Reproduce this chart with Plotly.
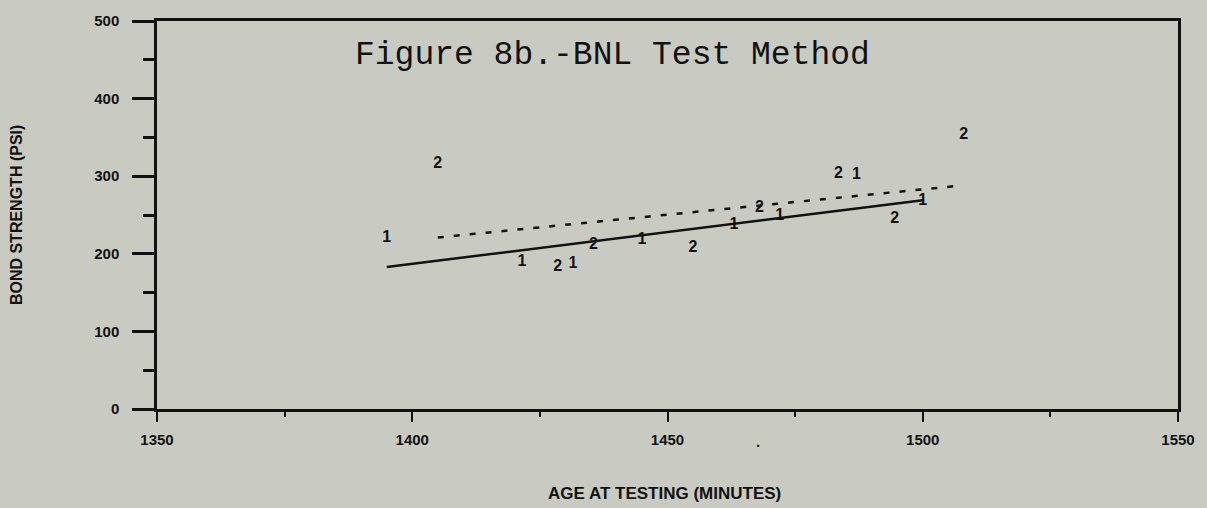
import plotly.graph_objects as go

# Series 1 ("1" symbols)
s1_age = [1395, 1421.5, 1431.5, 1445, 1463, 1472, 1487, 1500]
s1_strength = [221, 190, 187, 218, 237, 249, 302, 268]
# Series 2 ("2" symbols)
s2_age = [1405, 1428.5, 1435.5, 1455, 1468, 1483.5, 1494.5, 1508]
s2_strength = [316, 183, 211, 207, 259, 303, 245, 353]
# Fitted lines (end points)
fit1_age = [1395, 1500]
fit1_strength = [183, 269]
fit2_age = [1405, 1506]
fit2_strength = [221, 287]

x_ticks = [1350, 1400, 1450, 1500, 1550]
y_ticks = [0, 100, 200, 300, 400, 500]

BG = "#c9cbc3"
INK = "#111111"
SANS = "Liberation Sans, Arial, sans-serif"
tick_font = dict(family=SANS, size=15, color=INK, weight="bold")
ytitle_font = dict(family=SANS, size=16, color=INK, weight="bold")
xtitle_font = dict(family=SANS, size=17, color=INK, weight="bold")
mark_font = dict(family=SANS, size=16, color=INK, weight="bold")

fig = go.Figure()
fig.add_trace(go.Scatter(x=fit1_age, y=fit1_strength, mode="lines",
                         line=dict(color=INK, width=2.5), showlegend=False))
fig.add_trace(go.Scatter(x=fit2_age, y=fit2_strength, mode="lines",
                         line=dict(color=INK, width=2.5, dash="6px,10px"), showlegend=False))
fig.add_trace(go.Scatter(x=s1_age, y=s1_strength, mode="text", text=["1"] * len(s1_age),
                         textposition="middle center", textfont=mark_font, showlegend=False))
fig.add_trace(go.Scatter(x=s2_age, y=s2_strength, mode="text", text=["2"] * len(s2_age),
                         textposition="middle center", textfont=mark_font, showlegend=False))

fig.update_layout(
    width=1207, height=508,
    margin=dict(l=157, r=29, t=15, b=99),
    paper_bgcolor=BG, plot_bgcolor=BG,
    showlegend=False,
    xaxis=dict(range=[1350, 1550], tickvals=x_ticks, ticktext=[str(v) for v in x_ticks],
               ticks="outside", ticklen=10, tickwidth=2, tickcolor=INK,
               minor=dict(dtick=25, tick0=1350, ticks="outside", ticklen=5, tickwidth=2, tickcolor=INK, showgrid=False),
               showline=True, linewidth=2.5, linecolor=INK, mirror=True,
               showgrid=False, zeroline=False, tickfont=tick_font, ticklabelstandoff=5),
    yaxis=dict(range=[0, 500], tickvals=y_ticks, ticktext=[str(v) for v in y_ticks],
               ticks="outside", ticklen=22, tickwidth=2.5, tickcolor=INK,
               minor=dict(dtick=50, tick0=0, ticks="outside", ticklen=11, tickwidth=2.5, tickcolor=INK, showgrid=False),
               showline=True, linewidth=2.5, linecolor=INK, mirror=True,
               showgrid=False, zeroline=False, tickfont=tick_font, ticklabelstandoff=10),
    annotations=[
        dict(text="Figure 8b.-BNL Test Method", xref="paper", yref="paper", x=0.4466, y=0.911,
             xanchor="center", yanchor="middle", showarrow=False,
             font=dict(family="Courier New, Liberation Mono, monospace", size=33, color=INK)),
        dict(text="BOND STRENGTH (PSI)", xref="paper", yref="paper", x=-0.138, y=0.5,
             xanchor="center", yanchor="middle", textangle=-90, showarrow=False, font=ytitle_font),
        dict(text="AGE AT TESTING (MINUTES)", xref="paper", yref="paper", x=0.4975, y=-0.218,
             xanchor="center", yanchor="middle", showarrow=False, font=xtitle_font),
        dict(text=".", xref="x", yref="paper", x=1467.7, y=-0.084,
             xanchor="center", yanchor="middle", showarrow=False, font=tick_font),
    ],
)

fig.write_html("out.html", config={"displayModeBar": False},
               post_script="document.body.style.margin='0';document.body.style.background='" + BG + "';")
